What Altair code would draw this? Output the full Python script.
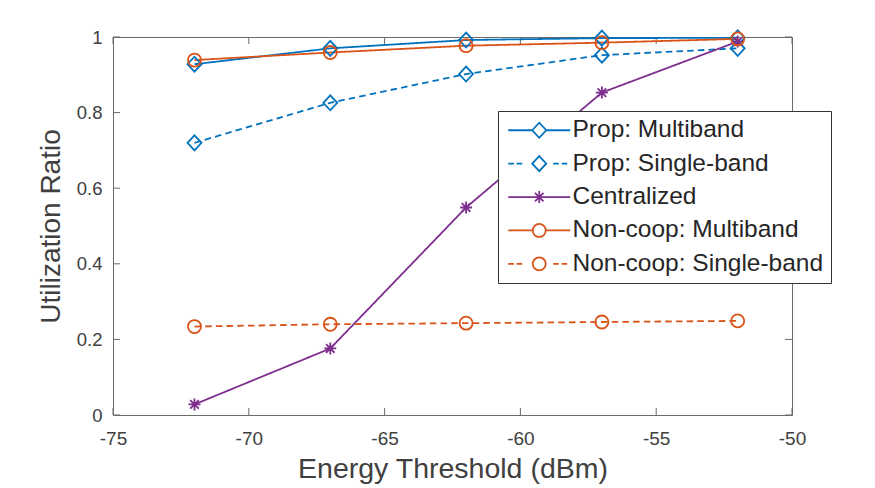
import altair as alt
import pandas as pd

# Energy threshold sweep (dBm)
thresholds = [-72, -67, -62, -57, -52]

# Utilization ratio per scheme
prop_multi = [0.928, 0.970, 0.992, 0.997, 0.998]
prop_single = [0.720, 0.826, 0.902, 0.952, 0.970]
centralized = [0.028, 0.176, 0.549, 0.853, 0.988]
noncoop_multi = [0.939, 0.959, 0.977, 0.985, 0.995]
noncoop_single = [0.234, 0.240, 0.243, 0.246, 0.249]

series_names = [
    "Prop: Multiband",
    "Prop: Single-band",
    "Centralized",
    "Non-coop: Multiband",
    "Non-coop: Single-band",
]
series_values = [prop_multi, prop_single, centralized, noncoop_multi, noncoop_single]

x_ticks = [-75, -70, -65, -60, -55, -50]
y_ticks = [0, 0.2, 0.4, 0.6, 0.8, 1.0]

BLUE, ORANGE, PURPLE = "#0072BD", "#D95319", "#7E2F8E"
colors = [BLUE, BLUE, PURPLE, ORANGE, ORANGE]
dashes = [[1, 0], [6.5, 4.2], [1, 0], [1, 0], [6.5, 4.2]]

# marker glyphs (unit square paths)
DIAMOND = "M-1,0L0,-1.07L1,0L0,1.07Z"
CIRCLE = "M-0.93,0A0.93,0.93,0,1,0,0.93,0A0.93,0.93,0,1,0,-0.93,0Z"
STAR = ("M-0.86,0L0.86,0M0,-0.86L0,0.86"
        "M-0.61,-0.61L0.61,0.61M-0.61,0.61L0.61,-0.61")
markers = [DIAMOND, DIAMOND, STAR, CIRCLE, CIRCLE]

# legend glyphs: line sample with the marker in the middle
SOLID_L = "M-4.43,0L-1,0M1,0L4.43,0"
SOLID_C = "M-4.43,0L-0.93,0M0.93,0L4.43,0"
SOLID_S = "M-4.43,0L4.43,0"
DASH_L = "M-4.43,0L-3.62,0M-3.24,0L-2.43,0M2.0,0L2.8,0M3.2,0L4.0,0"
legend_glyphs = [
    SOLID_L + DIAMOND,
    DASH_L + DIAMOND,
    SOLID_S + STAR,
    SOLID_C + CIRCLE,
    DASH_L + CIRCLE,
]

rows = []
for name, vals in zip(series_names, series_values):
    for t, v in zip(thresholds, vals):
        rows.append({"threshold": t, "ratio": v, "series": name})
df = pd.DataFrame(rows)

W, H = 679, 378
TICK_FONT = "Liberation Sans, Arial, sans-serif"
TXT = "#404040"
GRID = "#6b6b6b"

x_scale = alt.Scale(domain=[-75, -50], nice=False, zero=False)
y_scale = alt.Scale(domain=[0, 1], nice=False)

x_axis = alt.Axis(
    values=x_ticks, title="Energy Threshold (dBm)", grid=False, ticks=False,
    tickSize=0, domain=False, labelFont=TICK_FONT, labelFontSize=19,
    labelColor=TXT, labelPadding=14, labelFlush=False,
    labelExpr="datum.value + ''",
    titleFont=TICK_FONT, titleFontSize=28.5,
    titleFontWeight="normal", titleColor=TXT, titlePadding=6,
)
y_axis = alt.Axis(
    values=y_ticks, title="Utilization Ratio", grid=False, ticks=False,
    tickSize=0, domain=False, labelFont=TICK_FONT, labelFontSize=18.5,
    labelColor=TXT, labelPadding=11, labelFlush=False,
    titleFont=TICK_FONT, titleFontSize=28,
    titleFontWeight="normal", titleColor=TXT, titlePadding=11,
    labelExpr="datum.value == 0 || datum.value == 1 ? format(datum.value, 'd') : format(datum.value, '.1f')",
)

color_lines = alt.Color("series:N", scale=alt.Scale(domain=series_names, range=colors), legend=None)

base = alt.Chart(df)

lines = base.mark_line(strokeWidth=1.8).encode(
    x=alt.X("threshold:Q", scale=x_scale, axis=x_axis),
    y=alt.Y("ratio:Q", scale=y_scale, axis=y_axis),
    color=color_lines,
    strokeDash=alt.StrokeDash("series:N", scale=alt.Scale(domain=series_names, range=dashes), legend=None),
    detail="series:N",
)

points = base.mark_point(filled=False, strokeWidth=1.8, size=196, opacity=1).encode(
    x=alt.X("threshold:Q", scale=x_scale),
    y=alt.Y("ratio:Q", scale=y_scale),
    color=color_lines,
    shape=alt.Shape("series:N", scale=alt.Scale(domain=series_names, range=markers), legend=None),
)

legend_layer = base.transform_filter("false").mark_point(filled=False, opacity=1).encode(
    x=alt.X("threshold:Q", scale=x_scale),
    y=alt.Y("ratio:Q", scale=y_scale),
    color=alt.Color(
        "series:N",
        scale=alt.Scale(domain=series_names, range=colors),
        legend=alt.Legend(
            title=None, orient="none", legendX=385, legendY=74,
            labelFont=TICK_FONT, labelFontSize=24.5, labelColor="#262626",
            symbolSize=196, symbolStrokeWidth=1.8, symbolOffset=22,
            labelOffset=21, padding=7, rowPadding=8.4,
            strokeColor="#333333", fillColor="white", labelLimit=400,
        ),
    ),
    shape=alt.Shape("series:N", scale=alt.Scale(domain=series_names, range=legend_glyphs)),
)

tick_x = pd.DataFrame({"xt": x_ticks})
tick_y = pd.DataFrame({"yt": y_ticks})
TL = 7
ticks_bottom = alt.Chart(tick_x).mark_rule(color=GRID, strokeWidth=1).encode(
    x=alt.X("xt:Q", scale=x_scale), y=alt.value(H), y2=alt.value(H - TL))
ticks_top = alt.Chart(tick_x).mark_rule(color=GRID, strokeWidth=1).encode(
    x=alt.X("xt:Q", scale=x_scale), y=alt.value(0), y2=alt.value(TL))
ticks_left = alt.Chart(tick_y).mark_rule(color=GRID, strokeWidth=1).encode(
    y=alt.Y("yt:Q", scale=y_scale), x=alt.value(0), x2=alt.value(TL))
ticks_right = alt.Chart(tick_y).mark_rule(color=GRID, strokeWidth=1).encode(
    y=alt.Y("yt:Q", scale=y_scale), x=alt.value(W), x2=alt.value(W - TL))

chart = alt.layer(
    ticks_bottom, ticks_top, ticks_left, ticks_right, lines, points, legend_layer
).resolve_scale(
    color="independent", shape="independent"
).properties(
    width=W, height=H,
    autosize=alt.AutoSizeParams(type="none"),
    padding={"left": 113, "top": 37, "right": 83, "bottom": 73},
    background="white",
).configure_view(stroke=GRID, strokeWidth=1)

chart.save("out.html", embed_options={"renderer": "svg", "actions": False})
